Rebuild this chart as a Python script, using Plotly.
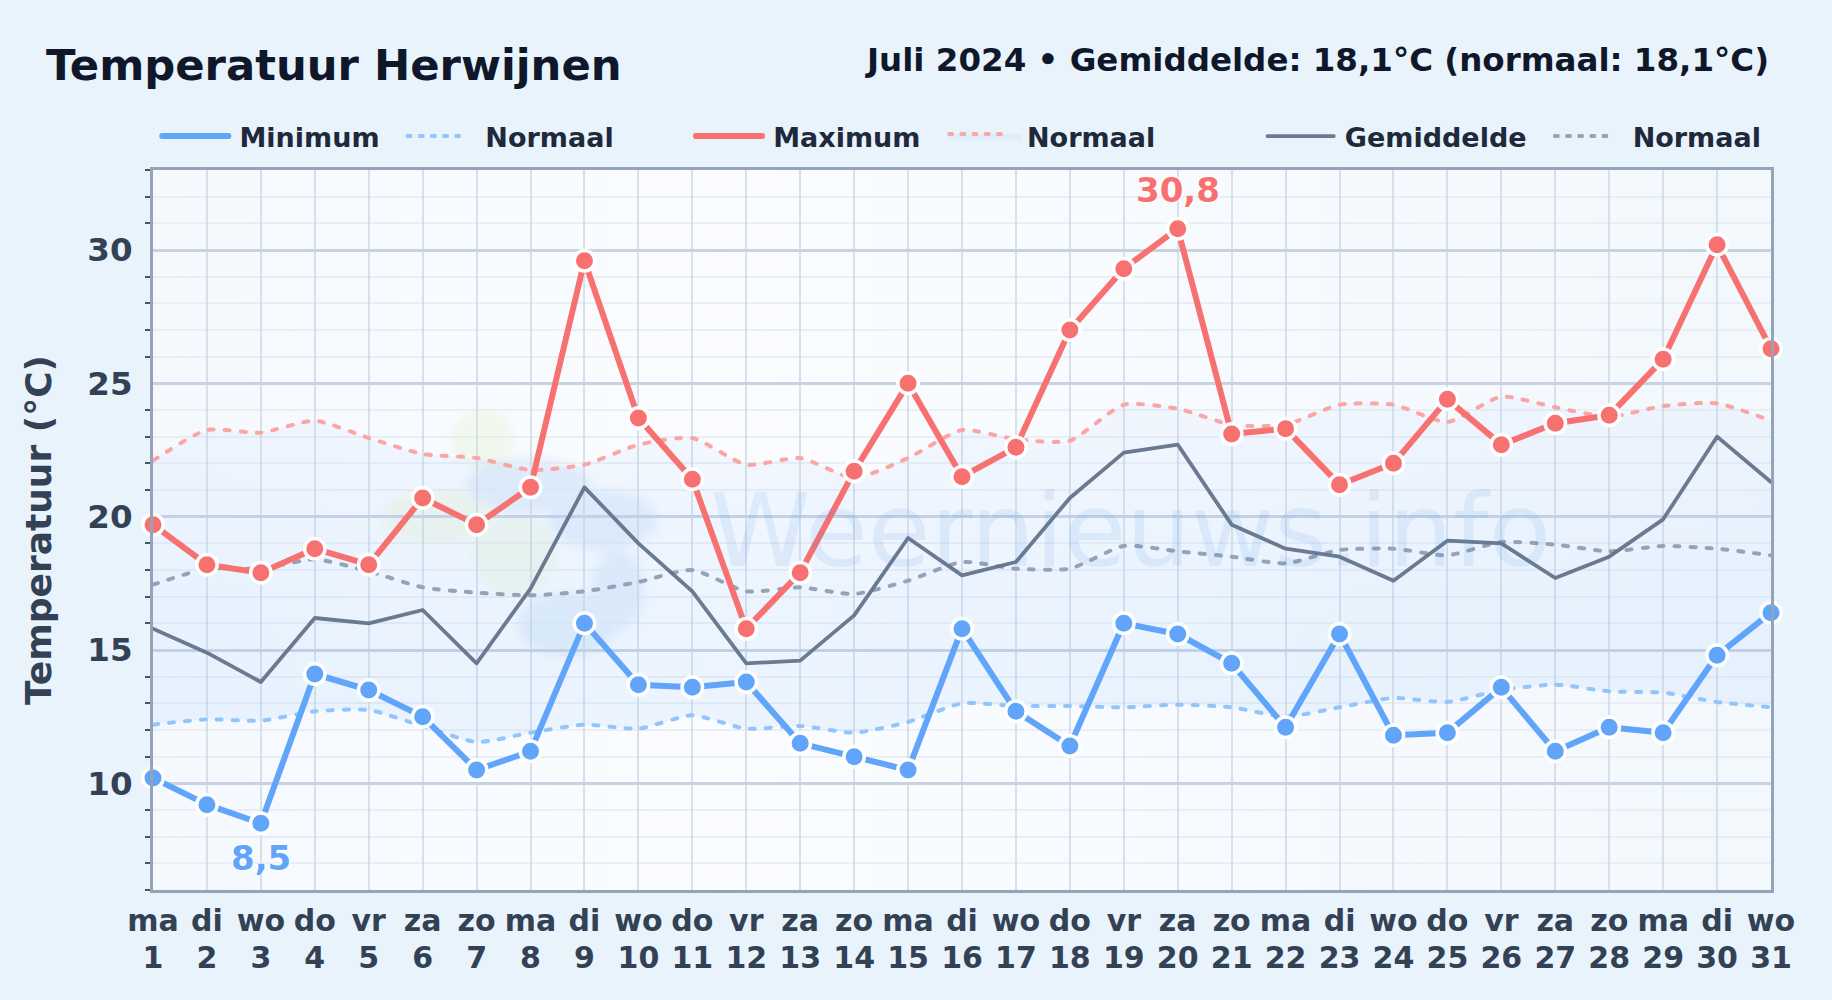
import base64
import plotly.graph_objects as go

days = list(range(1, 32))
weekdays = ["ma","di","wo","do","vr","za","zo"] * 4 + ["ma","di","wo"]

t_max = [19.7,18.2,17.9,18.8,18.2,20.7,19.7,21.1,29.6,23.7,21.4,15.8,17.9,21.7,25.0,21.5,22.6,27.0,29.3,30.8,23.1,23.3,21.2,22.0,24.4,22.7,23.5,23.8,25.9,30.2,26.3]
t_min = [10.2,9.2,8.5,14.1,13.5,12.5,10.5,11.2,16.0,13.7,13.6,13.8,11.5,11.0,10.5,15.8,12.7,11.4,16.0,15.6,14.5,12.1,15.6,11.8,11.9,13.6,11.2,12.1,11.9,14.8,16.4]
t_mean = [15.8,14.9,13.8,16.2,16.0,16.5,14.5,17.3,21.1,19.0,17.2,14.5,14.6,16.3,19.2,17.8,18.3,20.7,22.4,22.7,19.7,18.8,18.5,17.6,19.1,19.0,17.7,18.5,19.9,23.0,21.3]
norm_max = [22.1,23.25,23.15,23.6,22.95,22.35,22.2,21.75,21.95,22.7,22.95,21.95,22.2,21.45,22.2,23.25,22.9,22.85,24.2,24.05,23.45,23.45,24.2,24.2,23.55,24.5,24.1,23.75,24.15,24.25,23.6]
norm_mean = [17.45,18.05,18.05,18.4,17.95,17.35,17.15,17.05,17.2,17.55,18.0,17.2,17.35,17.1,17.6,18.3,18.05,18.05,18.9,18.7,18.5,18.25,18.75,18.8,18.55,19.05,18.95,18.7,18.9,18.8,18.55]
norm_min = [12.2,12.4,12.35,12.7,12.75,12.15,11.55,11.9,12.2,12.05,12.55,12.05,12.15,11.9,12.3,13.0,12.9,12.9,12.85,12.95,12.85,12.5,12.85,13.2,13.05,13.5,13.7,13.45,13.4,13.05,12.85]

BLUE, RED, SLATE = "#60a5fa", "#f87171", "#64748b"
FONT = "DejaVu Sans"
W, H = 1832, 1000
L, R, T, B = 152.5, 60.5, 169.5, 110
PW, PH = W - L - R, H - T - B

svg = f"""<svg xmlns='http://www.w3.org/2000/svg' viewBox='0 0 {PW} {PH}' width='{PW}' height='{PH}' preserveAspectRatio='none'>
<defs><linearGradient id='g' x1='0' y1='0' x2='1' y2='0'><stop offset='0' stop-color='#f5f9fe'/><stop offset='0.35' stop-color='#fafcff'/><stop offset='1' stop-color='#f3f8fd'/></linearGradient>
<filter id='b'><feGaussianBlur stdDeviation='5'/></filter></defs>
<rect width='{PW}' height='{PH}' fill='url(#g)'/>
<g filter='url(#b)'>
<g fill='#dcefb8' opacity='0.24'>
<ellipse cx='330' cy='270' rx='32' ry='30'/>
<ellipse cx='285' cy='348' rx='55' ry='28'/>
<ellipse cx='362' cy='385' rx='42' ry='40'/>
</g>
<g fill='#7fb3e6' opacity='0.17'>
<ellipse cx='375' cy='315' rx='62' ry='28'/>
<ellipse cx='450' cy='350' rx='55' ry='30'/>
<ellipse cx='415' cy='455' rx='50' ry='32'/>
<ellipse cx='465' cy='420' rx='26' ry='40'/>
</g>
</g></svg>"""
bg_uri = "data:image/svg+xml;base64," + base64.b64encode(svg.encode()).decode()

fig = go.Figure()

def line_trace(y, color, width, name, legend, dash=None, opacity=1.0, **kw):
    fig.add_trace(go.Scatter(x=days, y=y, mode="lines", name=name, legend=legend, opacity=opacity,
                             line=dict(color=color, width=width, dash=dash, shape="spline" if dash else "linear", smoothing=0.6),
                             cliponaxis=False, hoverinfo="skip", **kw))

dash = "5px,11px"
line_trace(norm_min, "#93c5fd", 4, "Normaal", "legend2", dash=dash)
line_trace(norm_max, "#fca5a5", 4, "Normaal", "legend4", dash=dash,
           fill="tonexty",
           fillgradient=dict(type="vertical", start=25, stop=11,
                             colorscale=[[0, "rgba(165,190,250,0.07)"], [0.55, "rgba(147,197,253,0.13)"], [1, "rgba(147,197,253,0.14)"]]))
line_trace(norm_mean, "#94a3b8", 4, "Normaal", "legend6", dash=dash)
line_trace(t_mean, SLATE, 3.8, "Gemiddelde", "legend5", opacity=0.95)
line_trace(t_max, RED, 6, "Maximum", "legend3")
line_trace(t_min, BLUE, 6, "Minimum", "legend")

for y, c in ((t_max, RED), (t_min, BLUE)):
    fig.add_trace(go.Scatter(x=days, y=y, mode="markers", showlegend=False, cliponaxis=False, hoverinfo="skip",
                             marker=dict(color=c, size=20.5, line=dict(color="white", width=3.5))))

# carries the second row of day labels (the day numbers)
fig.add_trace(go.Scatter(x=days, y=[None] * len(days), xaxis="x2", mode="lines", showlegend=False, hoverinfo="skip"))

hi, lo = max(t_max), min(t_min)
halo = "white 0 0 4px, white 0 0 3px, white 0 0 2px"
fig.add_annotation(x=days[t_max.index(hi)], y=hi, text=f"{hi:.1f}".replace(".", ","), showarrow=False, yshift=39,
                   font=dict(family=FONT, size=34, color=RED, weight="bold", shadow=halo))
fig.add_annotation(x=days[t_min.index(lo)], y=lo, text=f"{lo:.1f}".replace(".", ","), showarrow=False, yshift=-35,
                   font=dict(family=FONT, size=34, color=BLUE, weight="bold", shadow=halo))

fig.add_annotation(xref="paper", yref="paper", x=(43 - L) / PW, y=1 + (T - 64) / PH, xanchor="left", yanchor="middle",
                   text="Temperatuur Herwijnen", showarrow=False,
                   font=dict(family=FONT, size=43.3, color="#0f172a", weight="bold"))
fig.add_annotation(xref="paper", yref="paper", x=1, y=1 + (T - 59) / PH, xanchor="right", yanchor="middle",
                   text="Juli 2024 • Gemiddelde: 18,1°C (normaal: 18,1°C)", showarrow=False,
                   font=dict(family=FONT, size=32.5, color="#0f172a", weight="bold"))
fig.add_annotation(xref="paper", yref="paper", x=(1131 - L) / PW, y=(H - B - 530) / PH, xanchor="center", yanchor="middle",
                   text="Weernieuws.info", showarrow=False, opacity=0.1,
                   font=dict(family=FONT, size=102, color="#3b8bdc"))

legend_common = dict(orientation="h", xanchor="left", yanchor="middle", yref="paper", xref="paper",
                     bgcolor="rgba(0,0,0,0)", borderwidth=0, itemwidth=74, itemclick=False, itemdoubleclick=False,
                     font=dict(family=FONT, size=27, color="#1e293b", weight="bold"))
legend_y = 1 + (T - 136) / PH
legend_x = [155, 401, 689, 943, 1261, 1549]
legends = {}
for i, px in enumerate(legend_x):
    key = "legend" if i == 0 else f"legend{i + 1}"
    legends[key] = dict(legend_common, x=(px - L) / PW, y=legend_y)

label_font = dict(family=FONT, size=30, color="#334155", weight="bold")
fig.update_layout(
    width=W, height=H, margin=dict(l=L, r=R, t=T, b=B, pad=0), autosize=False,
    paper_bgcolor="#e9f3fc", plot_bgcolor="rgba(0,0,0,0)", hovermode=False,
    font=dict(family=FONT),
    images=[dict(source=bg_uri, xref="paper", yref="paper", x=0, y=1, sizex=1, sizey=1, sizing="stretch",
                 xanchor="left", yanchor="top", layer="below")],
    xaxis=dict(range=[1, 31], tickmode="array", tickvals=days, ticktext=weekdays, ticks="",
               showgrid=True, gridcolor="rgba(203,213,225,0.7)", gridwidth=2, zeroline=False,
               showline=True, mirror=True, linecolor="#94a3b8", linewidth=3,
               tickangle=0, ticklabelstandoff=2, tickfont=label_font),
    xaxis2=dict(range=[1, 31], overlaying="x", anchor="y", side="bottom", tickmode="array", tickvals=days,
                ticktext=[str(d) for d in days], ticks="", showgrid=False, zeroline=False, showline=False,
                tickangle=0, ticklabelstandoff=47, tickfont=label_font),
    yaxis=dict(range=[6, 33], tickmode="linear", tick0=0, dtick=5, ticks="",
               showgrid=True, gridcolor="#c7d3e3", gridwidth=3, zeroline=False,
               showline=True, mirror=True, linecolor="#94a3b8", linewidth=3,
               ticklabelstandoff=11,
               tickfont=dict(family=FONT, size=32.5, color="#334155", weight="bold"),
               minor=dict(dtick=1, tick0=0, ticks="outside", ticklen=5, tickwidth=1.5, tickcolor="#475569",
                          showgrid=True, gridcolor="rgba(226,232,240,0.65)", gridwidth=2),
               title=dict(text="Temperatuur (°C)", standoff=25,
                          font=dict(family=FONT, size=36, color="#334155", weight="bold"))),
    **legends,
)

post = ("document.body.style.margin='0';document.body.style.background='#e9f3fc';"
        "var s=document.createElement('style');s.textContent='.js-line{stroke-linecap:round;stroke-linejoin:round}"
        ".legendlines path.js-line{transform:translateX(2px) scaleX(.9)}"
        ".legendlines path.js-line[style*=\"dasharray\"]{transform:translateX(2px) scaleX(.76)}';"
        "document.head.appendChild(s);")
fig.write_html("out.html", post_script=post, config={"displayModeBar": False})
